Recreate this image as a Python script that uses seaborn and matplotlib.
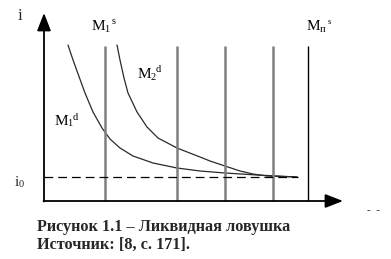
import numpy as np
import pandas as pd
import matplotlib
matplotlib.use("Agg")
import matplotlib.pyplot as plt
import seaborn as sns

# ---- data (money on x, interest rate on y; arbitrary units) ----
m1d_x = [24, 28, 33, 41, 49, 58, 66, 76, 89, 109, 133, 156, 181, 213, 253]
m1d_y = [156, 144, 130, 108, 89, 73, 62, 53, 45, 38, 33, 30, 28, 26, 24]
m2d_x = [73, 76, 80, 84, 93, 103, 114, 133, 156, 166, 181, 196, 209, 223, 253]
m2d_y = [156, 141, 123, 108, 89, 74, 63, 53, 44, 40, 35, 30, 27, 25, 24]
supply_gray_x = [61, 133, 181, 229]
supply_black_x = [264]
supply_top = 155
i0_level = 24
i0_end = 254
x_axis_end = 299
y_axis_end = 188

caption1 = "Рисунок 1.1 – Ликвидная ловушка"
caption2 = "Источник: [8, с. 171]."

sns.set_theme(style="white")
plt.rcParams['font.family'] = ['Liberation Serif', 'DejaVu Serif']

fig = plt.figure(figsize=(3.91, 2.59), dpi=100)
ax = fig.add_axes([0, 0, 1, 1])
ax.set_xlim(-44, 347)
ax.set_ylim(-58, 201)
ax.axis("off")

df1 = pd.DataFrame({"M": m1d_x, "i": m1d_y})
df2 = pd.DataFrame({"M": m2d_x, "i": m2d_y})
sns.lineplot(data=df1, x="M", y="i", ax=ax, color="#2a2a2a", lw=0.9, sort=False)
sns.lineplot(data=df2, x="M", y="i", ax=ax, color="#2a2a2a", lw=0.9, sort=False)

for xv in supply_gray_x:
    ax.plot([xv, xv], [0, supply_top], color="#808080", lw=1.8, solid_capstyle="butt")
for xv in supply_black_x:
    ax.plot([xv, xv], [0, supply_top], color="black", lw=1.0, solid_capstyle="butt")

ax.plot([0, i0_end], [i0_level, i0_level], color="black", lw=0.9,
        linestyle=(0, (7, 4)))

# axes with arrows
ax.annotate("", xy=(x_axis_end, 0), xytext=(-0.5, 0),
            arrowprops=dict(arrowstyle="-|>,head_length=0.9,head_width=0.35",
                            color="black", lw=1.3, shrinkA=0, shrinkB=0))
ax.annotate("", xy=(0, y_axis_end), xytext=(0, -0.5),
            arrowprops=dict(arrowstyle="-|>,head_length=0.9,head_width=0.35",
                            color="black", lw=1.3, shrinkA=0, shrinkB=0))

fs = 11
sub = 7.5

def mlabel(x, y, s_sub, s_sup, sub_dx=12.5, sup_dx=19, sup_fs=sub):
    ax.text(x, y, "M", fontsize=fs, ha="left", va="baseline", color="black")
    ax.text(x + sub_dx, y - 1.5, s_sub, fontsize=sub, ha="left", va="baseline", color="black")
    ax.text(x + sup_dx, y + 5.5, s_sup, fontsize=sup_fs, ha="left", va="baseline", color="black")

ax.text(-26, 181, "i", fontsize=fs + 1, ha="left", va="baseline")
ax.text(-29, 15, "i", fontsize=fs, ha="left", va="baseline")
ax.text(-25, 14, "0", fontsize=sub, ha="left", va="baseline")

mlabel(48, 171, "1", "s", sup_dx=19.5)
mlabel(94, 123, "2", "d", sup_dx=18)
mlabel(11, 76, "1", "d", sup_dx=18)
mlabel(263, 171, "п", "s", sub_dx=12.5, sup_dx=21, sup_fs=6)

ax.text(-7, -30, caption1, fontsize=11.7, fontweight="bold", ha="left", va="baseline")
ax.text(-7, -48, caption2, fontsize=11.7, fontweight="bold", ha="left", va="baseline")
ax.text(323, -12, "-  -", fontsize=8, ha="left", va="baseline")

fig.savefig("out.png", dpi=100)
